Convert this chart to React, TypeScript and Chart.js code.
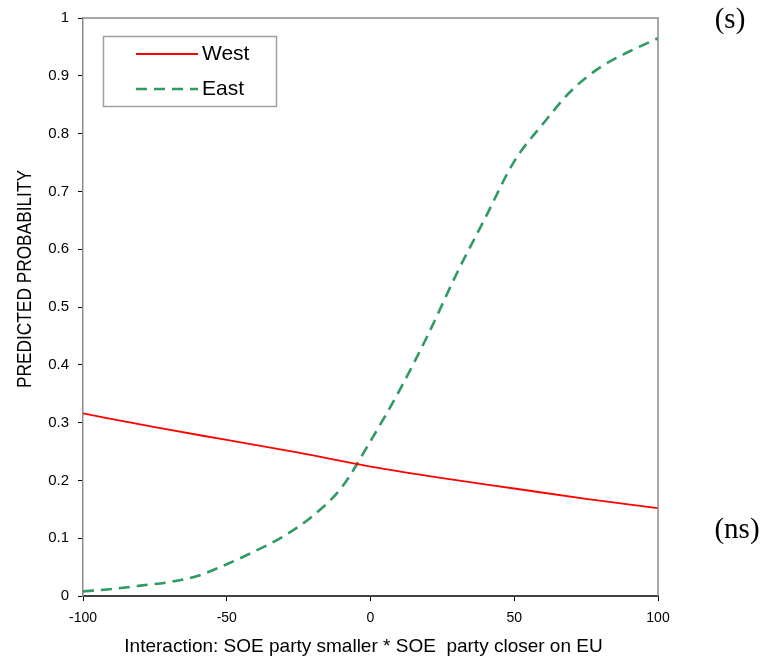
import React, { useEffect, useRef } from "react";
import { Chart, registerables } from "chart.js";

Chart.register(...registerables);

const westX = [-100, -75, -50, -25, 0, 25, 50, 75, 100];
const westY = [0.316, 0.292, 0.27, 0.248, 0.224, 0.204, 0.186, 0.168, 0.152];

const eastX = [-100, -90, -80, -70, -60, -50, -40, -30, -20, -10, 0, 10, 20, 30, 40, 50, 60, 70, 80, 90, 100];
const eastY = [0.008, 0.012, 0.018, 0.024, 0.035, 0.055, 0.078, 0.104, 0.139, 0.188, 0.268, 0.355, 0.452, 0.558, 0.655, 0.752, 0.817, 0.875, 0.915, 0.942, 0.965];

const seriesNames = ["West", "East"];
const xTitle = "Interaction: SOE party smaller * SOE  party closer on EU";
const yTitle = "PREDICTED PROBABILITY";
const sigTop = "(s)";
const sigBottom = "(ns)";

const SANS = "'Liberation Sans', Arial, sans-serif";
const SERIF = "'Liberation Serif', 'Times New Roman', serif";

function fitText(ctx: CanvasRenderingContext2D, text: string, x: number, y: number, target: number) {
  const w = ctx.measureText(text).width;
  const s = w > target ? target / w : 1;
  ctx.save();
  ctx.translate(x, y);
  ctx.scale(s, 1);
  ctx.fillText(text, 0, 0);
  ctx.restore();
}

const decorPlugin = {
  id: "decor",
  afterDraw(chart: any) {
    const ctx: CanvasRenderingContext2D = chart.ctx;
    const a = chart.chartArea;
    ctx.save();
    // frame top & right
    ctx.strokeStyle = "#8c8c8c";
    ctx.lineWidth = 1.5;
    ctx.beginPath();
    ctx.moveTo(a.left, a.top);
    ctx.lineTo(a.right, a.top);
    ctx.lineTo(a.right, a.bottom);
    ctx.stroke();

    // legend box
    ctx.strokeStyle = "#a0a0a0";
    ctx.lineWidth = 1.5;
    ctx.strokeRect(103.5, 36.5, 173, 70);
    const ds = chart.data.datasets;
    const rows = [54, 89];
    ds.forEach((d: any, i: number) => {
      ctx.save();
      ctx.strokeStyle = d.borderColor;
      ctx.lineWidth = d.borderWidth;
      ctx.setLineDash(d.borderDash || []);
      ctx.beginPath();
      ctx.moveTo(136, rows[i]);
      ctx.lineTo(198, rows[i]);
      ctx.stroke();
      ctx.restore();
      ctx.fillStyle = "#000";
      ctx.font = `21px ${SANS}`;
      ctx.textAlign = "left";
      ctx.textBaseline = "middle";
      ctx.fillText(seriesNames[i], 202, rows[i]);
    });

    // axis titles
    ctx.fillStyle = "#000";
    ctx.font = `19px ${SANS}`;
    ctx.textAlign = "center";
    ctx.textBaseline = "alphabetic";
    fitText(ctx, xTitle, 363.5, 652, 493);

    ctx.save();
    ctx.translate(31, 279);
    ctx.rotate(-Math.PI / 2);
    ctx.font = `21px ${SANS}`;
    ctx.textAlign = "center";
    ctx.textBaseline = "alphabetic";
    fitText(ctx, yTitle, 0, 0, 218);
    ctx.restore();

    // significance marks
    ctx.font = `29px ${SERIF}`;
    ctx.textAlign = "center";
    ctx.textBaseline = "middle";
    ctx.fillText(sigTop, 730, 20);
    ctx.fillText(sigBottom, 737, 530);
    ctx.restore();
  },
};

export default function App() {
  const ref = useRef<HTMLCanvasElement | null>(null);
  useEffect(() => {
    if (!ref.current) return;
    const chart = new Chart(ref.current, {
      type: "line",
      data: {
        datasets: [
          {
            label: seriesNames[0],
            data: westX.map((x, i) => ({ x, y: westY[i] })),
            borderColor: "#ff0000",
            borderWidth: 1.8,
            pointRadius: 0,
            fill: false,
            cubicInterpolationMode: "monotone",
          },
          {
            label: seriesNames[1],
            data: eastX.map((x, i) => ({ x, y: eastY[i] })),
            borderColor: "#2f9a62",
            borderWidth: 2.6,
            borderDash: [11, 7],
            pointRadius: 0,
            fill: false,
            cubicInterpolationMode: "monotone",
          },
        ],
      },
      options: {
        responsive: false,
        devicePixelRatio: 1,
        animation: false,
        layout: { padding: { top: 16, right: 110, left: 0, bottom: 0 } },
        plugins: { legend: { display: false }, tooltip: { enabled: false }, title: { display: false } },
        scales: {
          x: {
            type: "linear",
            min: -100,
            max: 100,
            afterFit: (s: any) => {
              s.height = 64;
            },
            ticks: {
              stepSize: 50,
              color: "#000",
              font: { family: SANS, size: 14 },
              padding: 9,
              maxRotation: 0,
            },
            grid: { drawOnChartArea: false, drawTicks: true, tickLength: 5, color: "#000", lineWidth: 1 },
            border: { color: "#404040", width: 2 },
          },
          y: {
            type: "linear",
            min: 0,
            max: 1,
            afterFit: (s: any) => {
              s.width = 83;
            },
            ticks: {
              stepSize: 0.1,
              color: "#000",
              font: { family: SANS, size: 15 },
              padding: 9,
              callback: (v: any) => {
                const n = Number(v);
                if (Math.abs(n) < 1e-9) return "0";
                if (Math.abs(n - 1) < 1e-9) return "1";
                return n.toFixed(1);
              },
            },
            grid: { drawOnChartArea: false, drawTicks: true, tickLength: 5, color: "#000", lineWidth: 1 },
            border: { color: "#8c8c8c", width: 1.5 },
          },
        },
      },
      plugins: [decorPlugin],
    } as any);
    return () => chart.destroy();
  }, []);
  return (
    <div style={{ position: "absolute", left: 0, top: 0, width: 768, height: 660, background: "#fff" }}>
      <canvas ref={ref} width={768} height={660} style={{ display: "block" }} />
    </div>
  );
}
